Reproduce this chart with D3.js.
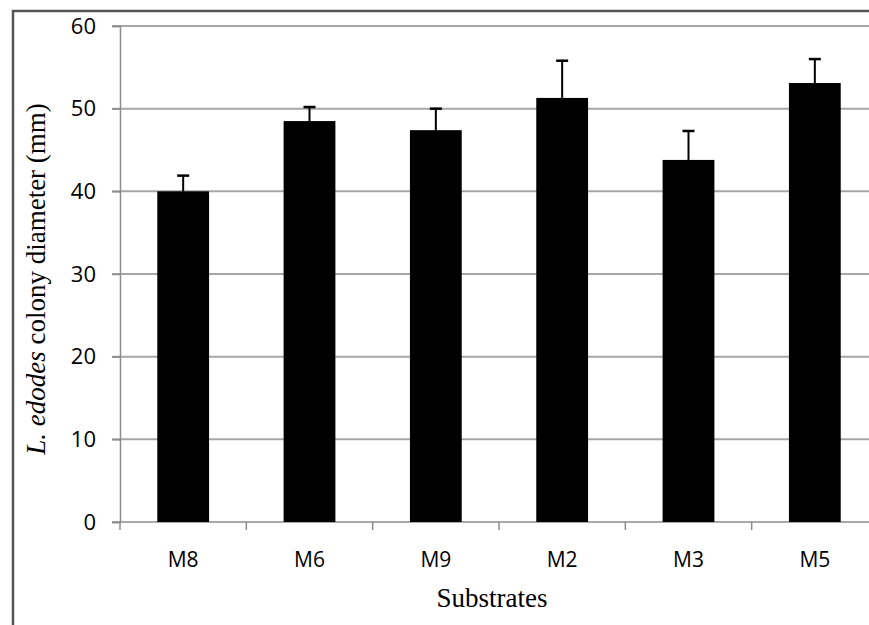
<!DOCTYPE html>
<html>
<head>
<meta charset="utf-8">
<script src="https://cdn.jsdelivr.net/npm/d3@7"></script>
<style>
  html, body { margin: 0; padding: 0; background: #fff; }
  svg { display: block; }
</style>
</head>
<body>
<div id="chart"></div>
<script>
// Data
const substrates = ['M8', 'M6', 'M9', 'M2', 'M3', 'M5'];
const diameters = [40.0, 48.5, 47.4, 51.3, 43.8, 53.1];
const errorTops = [41.9, 50.2, 50.0, 55.8, 47.3, 56.0];
const yTicks = [0, 10, 20, 30, 40, 50, 60];

const W = 869, H = 625;
const margin = { top: 26, right: -9, bottom: 103, left: 120 };
const width = W - margin.left - margin.right;
const height = H - margin.top - margin.bottom;

const svg = d3.select('#chart')
    .append('svg')
    .attr('width', W)
    .attr('height', H);

// Outer frame (only top and left edges visible)
svg.append('path')
    .attr('d', `M13,${H} L13,11 L${W},11`)
    .attr('fill', 'none')
    .attr('stroke', '#555')
    .attr('stroke-width', 2.5);

const g = svg.append('g')
    .attr('transform', `translate(${margin.left},${margin.top})`);

const x = d3.scaleBand()
    .domain(substrates)
    .range([0, width])
    .paddingInner(0.59)
    .paddingOuter(0.295);

const y = d3.scaleLinear()
    .domain([0, 60])
    .range([height, 0]);

// Gridlines
g.selectAll('.grid')
    .data(yTicks.filter(d => d > 0))
    .enter()
    .append('line')
    .attr('class', 'grid')
    .attr('x1', -8)
    .attr('x2', width)
    .attr('y1', d => y(d))
    .attr('y2', d => y(d))
    .attr('stroke', '#a6a6a6')
    .attr('stroke-width', 2);

// Y axis
const yAxis = g.append('g')
    .call(d3.axisLeft(y).tickValues(yTicks).tickSize(8).tickPadding(16));
yAxis.select('.domain').attr('stroke', '#8c8c8c').attr('stroke-width', 1.5);
yAxis.selectAll('.tick line').attr('stroke', '#8c8c8c').attr('stroke-width', 1.5);
yAxis.selectAll('text')
    .style('font-family', '"Open Sans", sans-serif')
    .style('font-size', '22px')
    .attr('fill', '#000');

// X axis: ticks sit between categories
const step = x.step();
const xAxis = g.append('g')
    .attr('transform', `translate(0,${height})`);
xAxis.append('line')
    .attr('x1', -8)
    .attr('x2', width)
    .attr('stroke', '#8c8c8c')
    .attr('stroke-width', 1.5);
xAxis.selectAll('.xtick')
    .data(d3.range(substrates.length + 1))
    .enter()
    .append('line')
    .attr('class', 'xtick')
    .attr('x1', i => i * step)
    .attr('x2', i => i * step)
    .attr('y1', 0)
    .attr('y2', 8)
    .attr('stroke', '#8c8c8c')
    .attr('stroke-width', 1.5);
xAxis.selectAll('.xlabel')
    .data(substrates)
    .enter()
    .append('text')
    .attr('class', 'xlabel')
    .attr('x', d => x(d) + x.bandwidth() / 2)
    .attr('y', 45)
    .attr('text-anchor', 'middle')
    .style('font-family', '"Open Sans", sans-serif')
    .style('font-size', '21px')
    .attr('fill', '#000')
    .text(d => d);

// Bars
g.selectAll('.bar')
    .data(substrates)
    .enter()
    .append('rect')
    .attr('class', 'bar')
    .attr('x', d => x(d))
    .attr('y', (d, i) => y(diameters[i]))
    .attr('width', x.bandwidth())
    .attr('height', (d, i) => height - y(diameters[i]))
    .attr('fill', '#000');

// Error bars
const eb = g.selectAll('.err')
    .data(substrates)
    .enter()
    .append('g')
    .attr('class', 'err')
    .attr('transform', d => `translate(${x(d) + x.bandwidth() / 2},0)`);
eb.append('line')
    .attr('y1', (d, i) => y(diameters[i]))
    .attr('y2', (d, i) => y(errorTops[i]))
    .attr('stroke', '#000')
    .attr('stroke-width', 2);
eb.append('line')
    .attr('x1', -6)
    .attr('x2', 6)
    .attr('y1', (d, i) => y(errorTops[i]))
    .attr('y2', (d, i) => y(errorTops[i]))
    .attr('stroke', '#000')
    .attr('stroke-width', 2.5);

// Axis titles
svg.append('text')
    .attr('x', 492)
    .attr('y', 607)
    .attr('text-anchor', 'middle')
    .style('font-family', '"Liberation Serif", "Times New Roman", serif')
    .style('font-size', '27px')
    .attr('fill', '#000')
    .text('Substrates');

const yTitle = svg.append('text')
    .attr('transform', 'translate(45,279) rotate(-90)')
    .attr('text-anchor', 'middle')
    .style('font-family', '"Liberation Serif", "Times New Roman", serif')
    .style('font-size', '27px')
    .attr('fill', '#000');
yTitle.append('tspan').style('font-style', 'italic').text('L. edodes');
yTitle.append('tspan').text(' colony diameter (mm)');
</script>
</body>
</html>
